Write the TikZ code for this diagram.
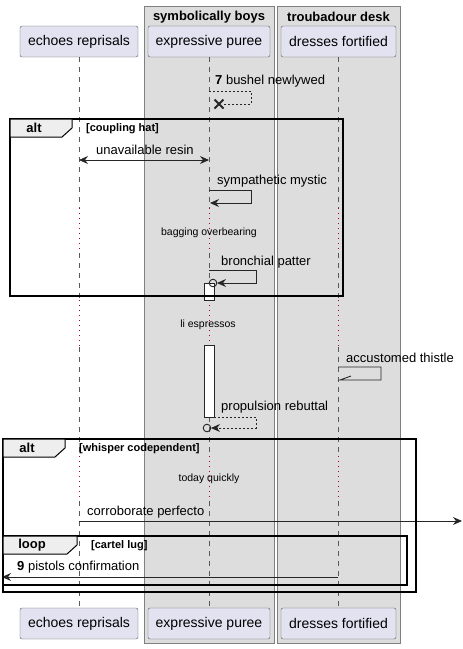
\documentclass[tikz,border=0pt]{standalone}
\usepackage{fontspec}
\setmainfont{Liberation Sans}
\usetikzlibrary{arrows.meta,positioning}

\definecolor{partfill}{HTML}{E2E2F0}
\definecolor{groupfill}{HTML}{DDDDDD}
\definecolor{tabfill}{HTML}{EEEEEE}
\definecolor{delayred}{HTML}{A80036}

\tikzset{
  actor/.style={draw=black!65, fill=partfill, rounded corners=2pt, minimum height=31pt,
    inner sep=0pt, font=\fontsize{14}{16}\selectfont},
  groupbox/.style={draw=black!50, fill=groupfill},
  grouptitle/.style={font=\bfseries\fontsize{13}{15}\selectfont},
  life/.style={black!65, line width=0.8pt, dash pattern=on 5pt off 5pt},
  delayline/.style={delayred, line width=0.8pt, dash pattern=on 1pt off 4pt},
  msg/.style={black!85, line width=0.9pt},
  reply/.style={msg, dash pattern=on 2pt off 2pt},
  tip/.style={-{Stealth[length=9pt,width=8pt,inset=3pt]}},
  msglabel/.style={anchor=west, inner sep=0pt, font=\fontsize{13}{15}\selectfont},
  delaylabel/.style={inner sep=0pt, font=\fontsize{10.5}{12}\selectfont},
  frameline/.style={draw=black, line width=1.6pt},
  frametab/.style={draw=black, line width=1pt, fill=tabfill},
  tablabel/.style={font=\bfseries\fontsize{13}{15}\selectfont, inner sep=0pt},
  guard/.style={anchor=west, inner sep=0pt, font=\bfseries\fontsize{11}{13}\selectfont},
  activebar/.style={draw=black!85, fill=white, line width=0.9pt}
}

\begin{document}
\begin{tikzpicture}[x=1pt, y=-1pt]
  \useasboundingbox (0,0) rectangle (463,649);

  % The two boxes
  \draw[groupbox] (144,6) rectangle (274,643);
  \draw[groupbox] (277,6) rectangle (400,643);
  \node[grouptitle] (boys) at (209,17) {symbolically boys};
  \node[grouptitle] (desk) at (338.5,17) {troubadour desk};

  % Participants, top and bottom
  \node[actor, minimum width=118pt] (top-echo) at (79,41.5) {echoes reprisals};
  \node[actor, minimum width=122pt] (top-puree) at (209,41.5) {expressive puree};
  \node[actor, minimum width=115pt] (top-dress) at (338.5,41.5) {dresses fortified};
  \node[actor, minimum width=118pt] (bot-echo) at (79,623.5) {echoes reprisals};
  \node[actor, minimum width=122pt] (bot-puree) at (209,623.5) {expressive puree};
  \node[actor, minimum width=115pt] (bot-dress) at (338.5,623.5) {dresses fortified};

  % Lifelines, dotted where the delays are
  \foreach \p in {echo,puree,dress} {
    \foreach \a/\b in {57/208, 253/300, 347/456, 501/608}
      \draw[life] (top-\p.south |- 0,\a) -- (top-\p.south |- 0,\b);
    \foreach \a/\b in {208/253, 300/347, 456/501}
      \draw[delayline] (top-\p.south |- 0,\a) -- (top-\p.south |- 0,\b);
  }

  % Message end points
  \coordinate (bushel-a) at (209,91);
  \coordinate (bushel-b) at (224,104);
  \coordinate (resin-a) at (79,160);
  \coordinate (resin-b) at (209,160);
  \coordinate (mystic-a) at (209,190);
  \coordinate (mystic-b) at (210,203);
  \coordinate (patter-a) at (209,270);
  \coordinate (patter-b) at (217,283);
  \coordinate (thistle-a) at (338,367);
  \coordinate (thistle-b) at (340,380);
  \coordinate (rebuttal-a) at (214,417);
  \coordinate (rebuttal-b) at (211,428);
  \coordinate (perfecto-a) at (79,521);
  \coordinate (perfecto-b) at (462,521);
  \coordinate (pistols-a) at (338,577);
  \coordinate (pistols-b) at (2,577);

  % Activation bar
  \draw[activebar] (204,283) rectangle (214,300);
  \draw[activebar] (204,345) rectangle (214,417);

  % Messages
  \draw[reply] (bushel-a) -- ++(42,0) |- (bushel-b);
  \draw[black!85, line width=2pt] (214.5,99.5) -- (223.5,108.5) (214.5,108.5) -- (223.5,99.5);
  \node[msglabel] (bushel) at (215,81) {\textbf{7} bushel newlywed};

  \draw[msg, {Stealth[length=9pt,width=8pt,inset=3pt]}-{Stealth[length=9pt,width=8pt,inset=3pt]}] (resin-a) -- (resin-b);
  \node[msglabel] (resin) at (96,150) {unavailable resin};

  \draw[msg, tip] (mystic-a) -- ++(42,0) |- (mystic-b);
  \node[msglabel] (mystic) at (217,181) {sympathetic mystic};

  \node[delaylabel] (bagging) at (209,233) {bagging overbearing};

  \draw[msg, tip] (patter-a) -- ++(47,0) |- (patter-b);
  \draw[msg] (213,283) circle (3.8);
  \node[msglabel] (patter) at (221,262) {bronchial patter};

  \node[delaylabel] (espressos) at (208,325) {li espressos};

  \draw[msg] (thistle-a) -- ++(43,0) |- (thistle-b) -- ++(11,-4);
  \node[msglabel] (thistle) at (346,358) {accustomed thistle};

  \draw[reply, tip] (rebuttal-a) -- ++(42,0) |- (rebuttal-b);
  \draw[msg] (207,428) circle (3.8);
  \node[msglabel] (rebuttal) at (221,407) {propulsion rebuttal};

  \node[delaylabel] (quickly) at (209,479) {today quickly};

  \draw[msg, tip] (perfecto-a) -- (perfecto-b);
  \node[msglabel] (perfecto) at (87,512) {corroborate perfecto};

  \draw[msg, tip] (pistols-a) -- (pistols-b);
  \node[msglabel] (pistols) at (17,567) {\textbf{9} pistols confirmation};

  % The frames
  \draw[frameline] (10,119) rectangle (343,296);
  \draw[frametab] (10,119) -- (72,119) -- (72,128) -- (62,137) -- (10,137) -- cycle;
  \node[tablabel] (alt-one) at (34,128) {alt};
  \node[guard] (hat) at (86,129) {[coupling hat]};

  \draw[frameline] (3,439) rectangle (416,592);
  \draw[frametab] (3,439) -- (65,439) -- (65,448) -- (55,457) -- (3,457) -- cycle;
  \node[tablabel] (alt-two) at (27,448) {alt};
  \node[guard] (whisper) at (79,449) {[whisper codependent]};

  \draw[frameline] (3,536) rectangle (407,585);
  \draw[frametab] (3,536) -- (77,536) -- (77,545) -- (67,554) -- (3,554) -- cycle;
  \node[tablabel] (loop) at (32,545) {loop};
  \node[guard] (lug) at (91,546) {[cartel lug]};
\end{tikzpicture}
\end{document}
